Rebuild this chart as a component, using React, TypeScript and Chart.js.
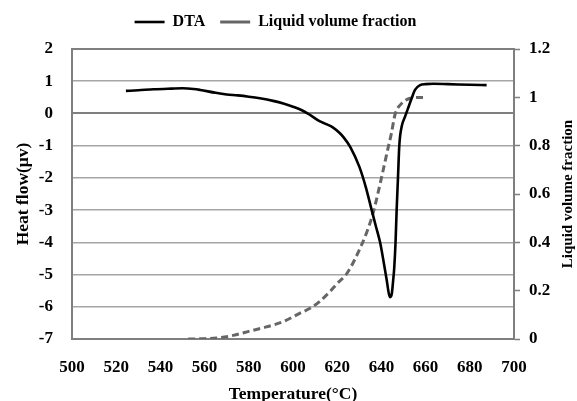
import React, { useEffect, useRef } from 'react';
import { Chart, registerables } from 'chart.js';

Chart.register(...registerables);

// ---- Data ----
const dtaTemperatures = [
  524.4, 530, 537, 545, 550, 555, 558, 565, 570, 575, 580, 585, 591, 596, 600,
  604, 608, 612, 615, 618, 621, 623, 626, 630, 633, 635.6, 637.5, 639.4, 641,
  642.4, 643.4, 644, 644.7, 645.3, 645.8, 646.4, 646.9, 647.5, 648.1, 649.2,
  650.7, 652, 653.7, 655.2, 657.5, 660, 663.5, 670, 680, 687.6,
];
const dtaHeatFlow = [
  0.7, 0.72, 0.75, 0.77, 0.78, 0.76, 0.73, 0.64, 0.59, 0.56, 0.52, 0.47, 0.39,
  0.3, 0.21, 0.1, -0.06, -0.24, -0.33, -0.43, -0.6, -0.75, -1.05, -1.65, -2.3,
  -3.0, -3.5, -4.0, -4.6, -5.17, -5.6, -5.7, -5.6, -5.2, -4.8, -4.0, -3.0, -2.0,
  -1.0, -0.4, -0.1, 0.15, 0.47, 0.73, 0.88, 0.91, 0.92, 0.91, 0.89, 0.88,
];
const lvfTemperatures = [
  552.6, 558, 565.5, 573, 580.5, 588, 595.6, 603.2, 607.7, 612, 616.7, 620,
  624.3, 628, 633.3, 636.2, 640.1, 643, 644.5, 646.2, 649.2, 653, 656, 659.7,
];
const lvfFraction = [
  0, 0.001, 0.004, 0.015, 0.033, 0.05, 0.072, 0.107, 0.127, 0.155, 0.196, 0.23,
  0.27, 0.33, 0.44, 0.52, 0.67, 0.79, 0.85, 0.93, 0.975, 0.996, 0.999, 1.0,
];
const temperatureTicks = [500, 520, 540, 560, 580, 600, 620, 640, 660, 680, 700];
const heatFlowTicks = [-7, -6, -5, -4, -3, -2, -1, 0, 1, 2];
const fractionTicks = [0, 0.2, 0.4, 0.6, 0.8, 1, 1.2];

const seriesLabels = ['DTA', 'Liquid volume fraction'];
const axisTitles = ['Temperature(°C)', 'Heat flow(μv)', 'Liquid volume fraction'];

const FONT = "'Liberation Serif', 'Times New Roman', serif";
const GRID = '#a6a6a6';
const BORDER = '#7f7f7f';

const rightTitlePlugin = {
  id: 'rightTitle',
  afterDraw(chart: any) {
    const { ctx, chartArea } = chart;
    ctx.save();
    ctx.font = `bold 15px ${FONT}`;
    ctx.fillStyle = '#000';
    ctx.textAlign = 'center';
    ctx.textBaseline = 'middle';
    ctx.translate(568, (chartArea.top + chartArea.bottom) / 2);
    ctx.rotate(-Math.PI / 2);
    ctx.fillText(axisTitles[2], 0, 0);
    ctx.restore();
  },
};

const legendShiftPlugin = {
  id: 'legendShift',
  afterLayout(chart: any) {
    const lg = chart.legend;
    if (lg) {
      lg.right -= 26;
      lg.top -= 9;
      lg.bottom -= 9;
    }
  },
};

export default function App() {
  const canvasRef = useRef<HTMLCanvasElement | null>(null);

  useEffect(() => {
    if (!canvasRef.current) return;
    const chart = new Chart(canvasRef.current, {
      type: 'scatter',
      data: {
        datasets: [
          {
            label: seriesLabels[0],
            data: dtaTemperatures.map((t, i) => ({ x: t, y: dtaHeatFlow[i] })),
            showLine: true,
            borderColor: '#000000',
            backgroundColor: '#000000',
            borderWidth: 2.6,
            pointRadius: 0,
            cubicInterpolationMode: 'monotone',
            yAxisID: 'y',
          },
          {
            label: seriesLabels[1],
            data: lvfTemperatures.map((t, i) => ({ x: t, y: lvfFraction[i] })),
            showLine: true,
            borderColor: '#666666',
            backgroundColor: '#666666',
            borderWidth: 3,
            borderDash: [7, 4],
            pointRadius: 0,
            cubicInterpolationMode: 'monotone',
            yAxisID: 'y1',
          },
        ],
      },
      plugins: [rightTitlePlugin, legendShiftPlugin],
      options: {
        animation: false,
        responsive: false,
        maintainAspectRatio: false,
        layout: { padding: 0 },
        plugins: {
          tooltip: { enabled: false },
          legend: {
            display: true,
            position: 'top',
            labels: {
              usePointStyle: true,
              pointStyle: 'line',
              pointStyleWidth: 30,
              padding: 15,
              color: '#000',
              font: { family: FONT, size: 16, weight: 'bold' },
            },
          },
        },
        scales: {
          x: {
            type: 'linear',
            min: temperatureTicks[0],
            max: temperatureTicks[temperatureTicks.length - 1],
            ticks: {
              stepSize: temperatureTicks[1] - temperatureTicks[0],
              color: '#000',
              padding: 10,
              font: { family: FONT, size: 17, weight: 'bold' },
              maxRotation: 0,
            },
            grid: { display: false },
            border: { display: true, color: BORDER, width: 2 },
            title: {
              display: true,
              text: axisTitles[0],
              color: '#000',
              font: { family: FONT, size: 17.5, weight: 'bold', lineHeight: 1 },
              padding: { top: 0, bottom: -2 },
            },
            afterFit(scale: any) {
              scale.height = 62;
            },
          },
          y: {
            type: 'linear',
            position: 'left',
            min: heatFlowTicks[0],
            max: heatFlowTicks[heatFlowTicks.length - 1],
            ticks: {
              stepSize: 1,
              color: '#000',
              padding: 19,
              font: { family: FONT, size: 17, weight: 'bold' },
            },
            grid: {
              display: true,
              drawTicks: false,
              color: (c: any) =>
                c.tick && (c.tick.value === 0 || c.tick.value === heatFlowTicks[heatFlowTicks.length - 1])
                  ? BORDER
                  : GRID,
              lineWidth: (c: any) =>
                c.tick && (c.tick.value === 0 || c.tick.value === heatFlowTicks[heatFlowTicks.length - 1])
                  ? 2
                  : 1.5,
            },
            border: { display: true, color: BORDER, width: 2 },
            title: {
              display: true,
              text: axisTitles[1],
              color: '#000',
              font: { family: FONT, size: 17.5, weight: 'bold', lineHeight: 1.2 },
              padding: { top: 13, bottom: 0 },
            },
            afterFit(scale: any) {
              scale.width = 72;
              scale.paddingTop = 49;
            },
          },
          y1: {
            type: 'linear',
            position: 'right',
            min: fractionTicks[0],
            max: fractionTicks[fractionTicks.length - 1],
            ticks: {
              stepSize: 0.2,
              color: '#000',
              padding: 9,
              font: { family: FONT, size: 17, weight: 'bold' },
              callback: (v: any) => String(Math.round(Number(v) * 10) / 10),
            },
            grid: {
              display: true,
              drawOnChartArea: false,
              drawTicks: true,
              tickLength: 6,
              tickColor: BORDER,
              tickWidth: 1.5,
            },
            border: { display: true, color: BORDER, width: 2 },
            afterFit(scale: any) {
              scale.width = 63;
            },
          },
        },
      },
    } as any);
    return () => chart.destroy();
  }, []);

  return (
    <div style={{ position: 'fixed', left: 0, top: 0, width: 577, height: 401, background: '#fff' }}>
      <canvas ref={canvasRef} width={577} height={401} style={{ width: 577, height: 401 }} />
    </div>
  );
}
